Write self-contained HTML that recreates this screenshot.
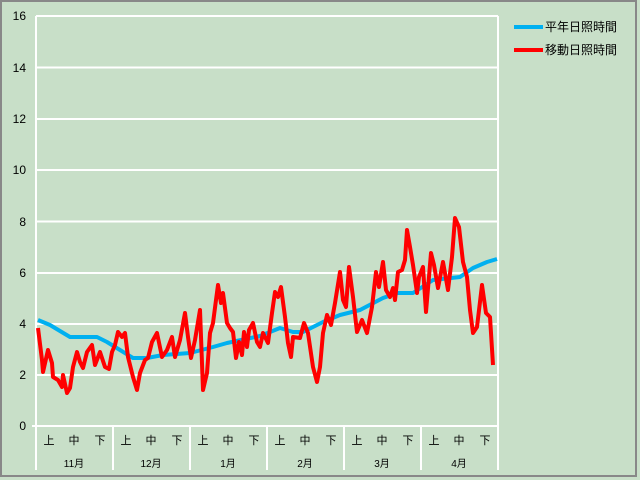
<!DOCTYPE html>
<html><head><meta charset="utf-8"><style>body{margin:0;background:#c8dfc8}svg{display:block}</style></head><body>
<svg width="640" height="480" xmlns="http://www.w3.org/2000/svg" font-family="Liberation Sans, Noto Sans CJK JP, sans-serif">
<rect x="0" y="0" width="640" height="480" fill="#c8dfc8"/>
<rect x="1" y="1" width="635" height="475" fill="none" stroke="#888" stroke-width="2"/>
<g stroke="#fff" stroke-width="2">
<line x1="36" y1="16" x2="498" y2="16"/><line x1="36" y1="67.5" x2="498" y2="67.5"/>
<line x1="36" y1="119" x2="498" y2="119"/><line x1="36" y1="170" x2="498" y2="170"/>
<line x1="36" y1="221.5" x2="498" y2="221.5"/><line x1="36" y1="273" x2="498" y2="273"/>
<line x1="36" y1="324" x2="498" y2="324"/><line x1="36" y1="375" x2="498" y2="375"/>
<line x1="32" y1="426" x2="498" y2="426"/>
<line x1="36" y1="16" x2="36" y2="470"/><line x1="498" y1="16" x2="498" y2="470"/>
<line x1="113" y1="426" x2="113" y2="470"/><line x1="190" y1="426" x2="190" y2="470"/>
<line x1="267" y1="426" x2="267" y2="470"/><line x1="344" y1="426" x2="344" y2="470"/>
<line x1="421" y1="426" x2="421" y2="470"/>
</g>
<g font-size="12" text-anchor="end" fill="#000">
<text x="26" y="20">16</text><text x="26" y="72">14</text><text x="26" y="123">12</text>
<text x="26" y="174">10</text><text x="26" y="226">8</text><text x="26" y="277">6</text>
<text x="26" y="328">4</text><text x="26" y="379">2</text><text x="26" y="430">0</text>
</g>
<g font-size="11" text-anchor="middle" fill="#000">
<text x="49" y="444">上</text><text x="74" y="444">中</text><text x="100" y="444">下</text>
<text x="126" y="444">上</text><text x="151" y="444">中</text><text x="177" y="444">下</text>
<text x="203" y="444">上</text><text x="228" y="444">中</text><text x="254" y="444">下</text>
<text x="280" y="444">上</text><text x="305" y="444">中</text><text x="331" y="444">下</text>
<text x="357" y="444">上</text><text x="382" y="444">中</text><text x="408" y="444">下</text>
<text x="434" y="444">上</text><text x="459" y="444">中</text><text x="485" y="444">下</text>
<text x="74" y="467" font-size="10">11月</text><text x="151" y="467" font-size="10">12月</text>
<text x="228" y="467" font-size="10">1月</text><text x="305" y="467" font-size="10">2月</text>
<text x="382" y="467" font-size="10">3月</text><text x="459" y="467" font-size="10">4月</text>
</g>
<polyline fill="none" stroke="#00b0f0" stroke-width="4" stroke-linejoin="round" points="38,320 50,325 70,337 97,337 107,342 120,350 133,358 147,358 163,355 190,353 213,347 227,343 260,336 280,328 293,332 303,332 323,322 340,315 360,310 383,298 397,293 413,293 433,280 460,277 473,268 487,262 497,259"/>
<polyline fill="none" stroke="#f00" stroke-width="4" stroke-linejoin="round" points="38,328 42,360 43,372 48,350 52,363 53,377 58,380 62,387 63,375 67,393 70,388 73,367 77,352 80,362 83,368 87,352 92,345 95,365 100,352 105,367 109,369 112,352 115,345 118,332 122,337 125,333 128,357 133,377 137,390 140,373 145,360 148,358 152,342 157,333 162,357 167,350 172,337 175,357 180,340 185,313 188,337 191,358 195,340 200,310 203,390 207,373 210,333 213,323 216,300 218,285 221,303 223,293 227,323 230,328 233,332 236,358 239,342 242,355 244,332 247,347 249,330 253,323 257,342 260,347 263,333 268,343 272,313 275,292 278,297 281,287 285,317 288,343 291,357 293,337 300,338 304,323 308,333 313,367 317,382 320,367 323,333 327,315 331,325 335,303 340,272 343,300 346,307 349,267 353,297 357,332 362,320 367,333 372,307 376,272 379,287 383,262 386,290 390,297 393,288 395,300 398,272 402,270 405,260 407,230 410,247 413,265 417,293 419,277 423,267 426,312 431,253 434,265 438,288 443,262 448,290 452,257 455,218 459,227 463,262 467,277 470,310 473,333 477,327 482,285 486,313 490,317 493,365"/>
<line x1="514" y1="27" x2="543" y2="27" stroke="#00b0f0" stroke-width="4"/>
<line x1="514" y1="50" x2="543" y2="50" stroke="#f00" stroke-width="4"/>
<g font-size="12" fill="#000"><text x="545" y="31">平年日照時間</text><text x="545" y="54">移動日照時間</text></g>
</svg>
</body></html>
